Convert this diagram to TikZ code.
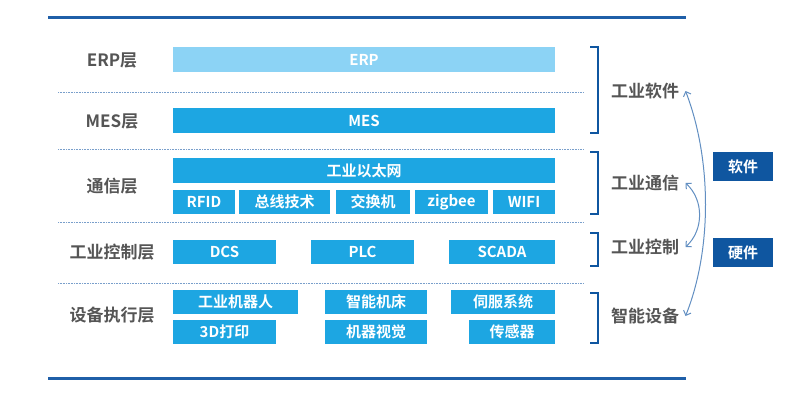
\documentclass[tikz,border=0pt]{standalone}
\usepackage{fontspec}
\setmainfont{Noto Sans CJK SC}[BoldFont={Noto Sans CJK SC Bold}]
\usetikzlibrary{arrows.meta}
\definecolor{lineblue}{HTML}{1F5FA8}
\definecolor{boxblue}{HTML}{1DA6E2}
\definecolor{lightblue}{HTML}{8CD3F5}
\definecolor{darkblue}{HTML}{0F56A0}
\definecolor{labgray}{HTML}{555555}
\tikzset{
  blk/.style={fill=boxblue,text=white,font=\bfseries\fontsize{15}{15}\selectfont,
    inner sep=0pt,minimum height=24pt},
  lab/.style={text=labgray,font=\bfseries\fontsize{17}{17}\selectfont},
  tag/.style={fill=darkblue,text=white,font=\bfseries\fontsize{15}{15}\selectfont,
    minimum width=60pt,minimum height=29pt,inner sep=0pt},
  sep/.style={lineblue!60,densely dotted,line width=0.6pt},
  brace/.style={darkblue,line width=1.2pt},
  arc/.style={lineblue!70,line width=1pt,{Straight Barb[length=4pt,width=8pt]}-{Straight Barb[length=4pt,width=8pt]}}
}
\begin{document}
\begin{tikzpicture}[x=1pt,y=-1pt]
  \useasboundingbox[fill=white] (0,0) rectangle (800,404);
  \draw[lineblue,line width=3pt] (48,18) -- (686,18);
  \draw[lineblue,line width=3pt] (48,378) -- (686,378);
  \foreach \y in {92,149,222,283} \draw[sep] (58,\y) -- (583,\y);
  % layer labels
  \node[lab] (lerp) at (112,60)  {ERP层};
  \node[lab] (lmes) at (112,121) {MES层};
  \node[lab] (lcom) at (112,186) {通信层};
  \node[lab] (lctl) at (112,252) {工业控制层};
  \node[lab] (ldev) at (112,315) {设备执行层};
  % boxes
  \node[blk,fill=lightblue,minimum width=382pt,minimum height=25pt] (erp) at (364,59.5) {ERP};
  \node[blk,minimum width=382pt,minimum height=25pt] (mes) at (364,120.5) {MES};
  \node[blk,minimum width=382pt,minimum height=25pt] (eth) at (364,170.5) {工业以太网};
  \node[blk,minimum width=62pt] (rfid) at (204,202)   {RFID};
  \node[blk,minimum width=91pt] (bus)  at (284.5,202) {总线技术};
  \node[blk,minimum width=74pt] (sw)   at (373,202)   {交换机};
  \node[blk,minimum width=73pt] (zig)  at (451.5,202) {zigbee};
  \node[blk,minimum width=62pt] (wifi) at (524,202)   {WIFI};
  \node[blk,minimum width=103pt] (dcs)   at (224.5,252) {DCS};
  \node[blk,minimum width=103pt] (plc)   at (362.5,252) {PLC};
  \node[blk,minimum width=106pt] (scada) at (502,252)   {SCADA};
  \node[blk,minimum width=125pt] (robot) at (235.5,302) {工业机器人};
  \node[blk,minimum width=102pt] (cnc)   at (376,302)   {智能机床};
  \node[blk,minimum width=104pt] (servo) at (503,302)   {伺服系统};
  \node[blk,minimum width=103pt] (print) at (224.5,332) {3D打印};
  \node[blk,minimum width=102pt] (vis)   at (376,332)   {机器视觉};
  \node[blk,minimum width=86pt]  (sens)  at (512,332)   {传感器};
  % brackets
  \foreach \a/\b in {47/133,152/214,233/266,293/343}
    \draw[brace] (590,\a) -- (598,\a) -- (598,\b) -- (590,\b);
  % right labels
  \node[lab] (rsw)  at (645,91)  {工业软件};
  \node[lab] (rcom) at (645,183) {工业通信};
  \node[lab] (rctl) at (645,247) {工业控制};
  \node[lab] (rdev) at (645,316) {智能设备};
  \draw[arc] ([xshift=3pt]rsw.east) .. controls (712,160) and (712,250) .. ([xshift=3pt]rdev.east);
  \draw[arc] ([xshift=3pt]rcom.east) .. controls (704,200) and (704,230) .. ([xshift=3pt]rctl.east);
  \node[tag] (soft) at (743,166.5) {软件};
  \node[tag] (hard) at (743,252.5) {硬件};
\end{tikzpicture}
\end{document}
